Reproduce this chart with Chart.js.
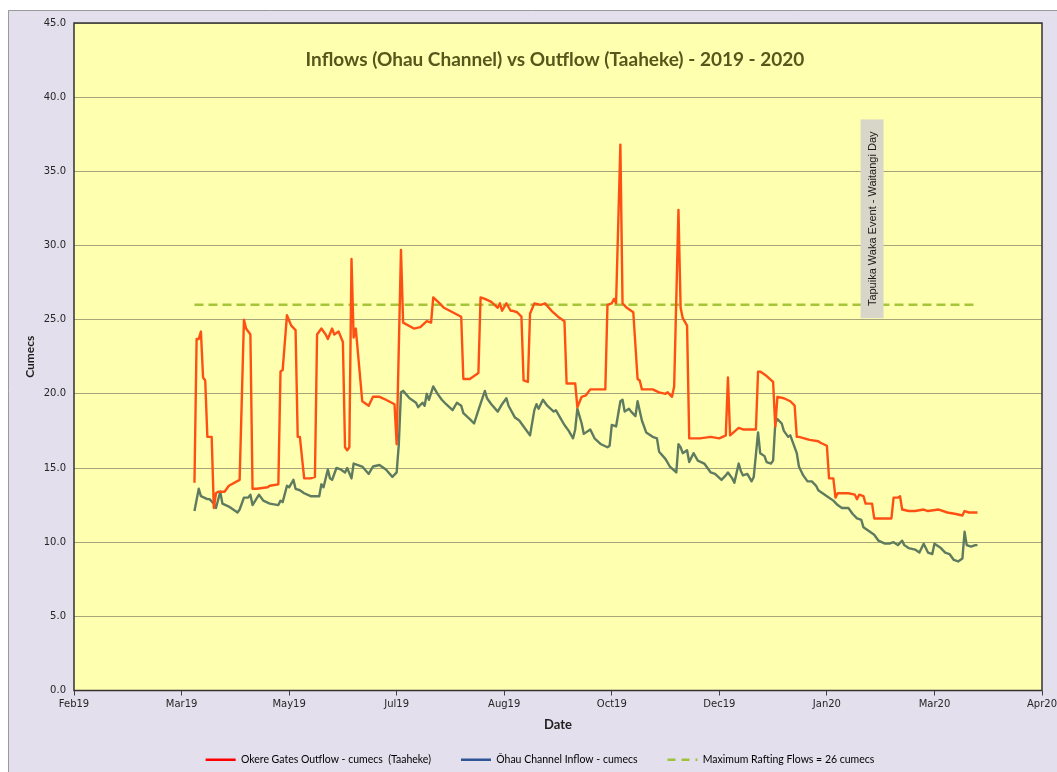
<!DOCTYPE html>
<html>
<head>
<meta charset="utf-8">
<title>Inflows vs Outflow 2019 - 2020</title>
<script src="https://cdn.jsdelivr.net/npm/chart.js@4.4.1/dist/chart.umd.min.js"></script>
<style>
  html, body { margin: 0; padding: 0; background: #ffffff; }
  canvas { display: block; }
</style>
</head>
<body>
<canvas class="flow-chart" width="1057" height="772"></canvas>
<script>
// day numbers count from 1 April 2019 (day 0)
const outflowDays = [0,1,2,3,4,5,6,8,9,10,11,14,16,21,23,24,26,27,29,34,35,39,40,41,43,45,47,48,49,51,54,56,57,59,61,62,64,65,67,69,70,71,72,73,74,75,78,81,83,86,89,93,94,96,97,102,105,108,110,111,114,116,120,124,125,128,132,133,135,138,141,142,143,145,147,148,150,152,153,155,156,158,161,163,166,169,172,173,177,178,180,182,184,188,191,192,194,195,196,198,199,201,204,206,207,208,213,216,219,220,222,223,225,226,227,229,230,235,240,244,247,248,249,253,255,261,262,263,266,269,270,271,274,277,279,280,281,286,290,291,294,295,297,298,299,304,307,308,309,311,312,315,316,324,325,327,328,329,332,335,339,341,346,350,354,357,358,360,364];
const outflowCumecs = [14.0,23.7,23.7,24.2,21.1,20.9,17.1,17.1,12.3,13.3,13.4,13.4,13.8,14.2,25.0,24.4,24.0,13.6,13.6,13.7,13.8,13.9,21.5,21.6,25.3,24.6,24.3,17.1,17.1,14.3,14.3,14.4,24.0,24.4,24.0,23.7,24.4,24.0,24.2,23.5,16.4,16.2,16.4,29.1,23.8,24.4,19.5,19.2,19.8,19.8,19.6,19.3,16.6,29.7,24.8,24.4,24.5,24.9,24.8,26.5,26.1,25.8,25.5,25.2,21.0,21.0,21.4,26.5,26.4,26.2,25.8,26.1,25.6,26.1,25.6,25.6,25.5,25.2,20.9,20.8,25.4,26.1,26.0,26.1,25.6,25.2,24.9,20.7,20.7,19.1,19.8,19.9,20.3,20.3,20.3,26.0,26.1,26.4,26.1,36.8,26.1,25.8,25.5,21.0,20.9,20.3,20.3,20.1,20.0,20.1,19.8,20.5,32.4,25.8,25.1,24.6,17.0,17.0,17.1,17.0,17.2,21.1,17.2,17.7,17.6,17.6,21.5,21.5,21.2,20.8,17.8,19.8,19.7,19.5,19.2,17.1,17.1,16.9,16.8,16.7,16.5,14.3,14.3,13.0,13.3,13.3,13.2,12.9,13.2,13.1,12.6,12.6,11.6,11.6,13.0,13.0,13.1,12.2,12.1,12.1,12.2,12.1,12.2,12.0,11.9,11.8,12.1,12.0,12.0];

const inflowDays = [0,2,3,6,7,9,10,12,13,16,18,20,21,23,25,26,27,30,32,35,39,40,41,43,44,46,47,49,51,54,58,59,60,62,63,64,66,68,70,71,73,74,76,78,81,83,86,89,92,94,95,96,97,100,103,104,106,107,108,109,111,113,115,117,120,122,124,125,128,130,132,135,136,138,141,143,145,146,149,151,153,156,158,159,160,162,164,167,168,170,172,174,176,177,178,180,181,184,186,189,192,193,194,196,198,199,200,202,203,205,206,208,210,213,215,216,219,221,224,225,226,227,229,230,232,234,237,240,242,245,247,248,250,251,253,254,255,257,259,260,262,263,265,266,268,269,270,271,273,274,276,277,278,280,281,283,285,287,289,290,292,294,297,299,301,304,306,308,310,311,314,316,318,321,323,325,327,329,330,332,335,337,339,341,343,344,347,349,351,353,355,357,358,359,361,363,364];
const inflowCumecs = [12.1,13.6,13.1,12.9,12.9,12.6,12.3,13.4,12.6,12.4,12.2,12.0,12.2,13.0,13.0,13.2,12.5,13.2,12.8,12.6,12.5,12.8,12.7,13.8,13.7,14.2,13.6,13.5,13.3,13.1,13.1,13.9,13.7,14.9,14.3,14.2,15.0,14.9,14.7,15.0,14.3,15.3,15.2,15.1,14.6,15.1,15.2,14.9,14.4,14.7,16.6,20.1,20.2,19.7,19.4,19.1,19.4,19.2,20.0,19.6,20.5,20.0,19.6,19.3,18.9,19.4,19.2,18.7,18.3,18.0,18.9,20.2,19.7,19.3,18.8,19.3,19.7,19.2,18.4,18.2,17.8,17.2,18.9,19.3,19.0,19.6,19.2,18.8,18.9,18.4,17.9,17.5,17.0,17.6,19.0,18.0,17.3,17.6,17.0,16.6,16.4,16.5,17.9,17.8,19.5,19.6,18.8,19.0,18.8,18.5,19.5,18.2,17.4,17.1,17.0,16.1,15.6,15.1,14.7,16.6,16.4,16.0,16.2,15.4,16.0,15.5,15.3,14.7,14.6,14.2,14.5,14.7,14.3,14.0,15.3,14.8,14.5,14.6,14.1,14.4,17.4,16.0,15.8,15.4,15.3,15.5,18.0,18.3,18.0,17.5,17.1,17.2,16.8,16.0,15.1,14.5,14.1,14.1,13.8,13.5,13.3,13.1,12.8,12.5,12.3,12.3,11.9,11.6,11.5,11.0,10.7,10.5,10.1,9.9,9.9,10.0,9.8,10.1,9.8,9.6,9.5,9.3,9.9,9.3,9.2,9.9,9.6,9.3,9.2,8.8,8.7,8.9,10.7,9.8,9.7,9.8,9.8];

const raftingDays = [0, 364];
const raftingCumecs = [26, 26];

// x axis runs 4 Feb 2019 (day -56) to 29 Apr 2020 in 50 day steps
const xTickLabels = ["Feb19", "Mar19", "May19", "Jul19", "Aug19", "Oct19", "Dec19", "Jan20", "Mar20", "Apr20"];
const seriesLabels = ["Okere Gates Outflow - cumecs  (Taaheke)", "Ōhau Channel Inflow - cumecs", "Maximum Rafting Flows = 26 cumecs"];
const legendColours = ["#FF0000", "#2F5597", "#9DC23C"];

const chartTitle = "Inflows (Ohau Channel) vs Outflow (Taaheke) - 2019 - 2020";
const eventLabel = "Tapuika Waka Event - Waitangi Day";
const eventDay = 315;
const eventSpan = [25.1, 38.5];

const toPoints = (days, vals) => days.map((d, i) => ({ x: d, y: vals[i] }));

const chartFrame = {
  id: "chartFrame",
  beforeDraw(chart) {
    const { ctx, chartArea: a } = chart;
    ctx.save();
    ctx.fillStyle = "#ffffff";
    ctx.fillRect(0, 0, chart.width, chart.height);
    ctx.fillStyle = "#E4DFEC";
    ctx.fillRect(8, 10, chart.width - 8, chart.height - 10);
    ctx.strokeStyle = "#9a9a9a";
    ctx.lineWidth = 1;
    ctx.beginPath();
    ctx.moveTo(8.5, chart.height);
    ctx.lineTo(8.5, 10.5);
    ctx.lineTo(chart.width, 10.5);
    ctx.stroke();
    ctx.fillStyle = "#FFFFB0";
    ctx.fillRect(a.left, a.top, a.right - a.left, a.bottom - a.top);
    ctx.restore();
  },
  afterDatasetsDraw(chart) {
    const { ctx, chartArea: a, scales: { x, y } } = chart;
    ctx.save();
    ctx.fillStyle = "#57561B";
    ctx.font = "bold 19px Lato";
    ctx.textAlign = "center";
    ctx.textBaseline = "middle";
    ctx.fillText(chartTitle, (a.left + a.right) / 2 - 3, a.top + 37);

    const cx = x.getPixelForValue(eventDay);
    const top = y.getPixelForValue(eventSpan[1]);
    const bottom = y.getPixelForValue(eventSpan[0]);
    ctx.fillStyle = "#D8D6C8";
    ctx.fillRect(cx - 11.5, top, 23, bottom - top);
    ctx.translate(cx, (top + bottom) / 2);
    ctx.rotate(-Math.PI / 2);
    ctx.fillStyle = "#1a1a1a";
    ctx.font = "11px 'Liberation Sans'";
    ctx.fillText(eventLabel, 0, 1);
    ctx.restore();
  },
  afterDraw(chart) {
    const { ctx, chartArea: a } = chart;
    ctx.save();
    ctx.strokeStyle = "#333333";
    ctx.lineWidth = 1.5;
    ctx.strokeRect(a.left, a.top, a.right - a.left, a.bottom - a.top);
    ctx.restore();
  }
};

// the legend sits a little right of centre in the original
const legendNudge = {
  id: "legendNudge",
  afterLayout(chart) {
    const lg = chart.legend;
    lg.left += 19;
    lg.right += 19;
    lg.top += 3;
    lg.bottom += 3;
  }
};

const ctx = document.querySelector(".flow-chart").getContext("2d");

new Chart(ctx, {
  type: "line",
  data: {
    datasets: [
      {
        label: seriesLabels[0],
        data: toPoints(outflowDays, outflowCumecs),
        borderColor: "#FF5014",
        borderWidth: 2.4,
        borderJoinStyle: "round",
        pointRadius: 0,
        tension: 0,
      },
      {
        label: seriesLabels[1],
        data: toPoints(inflowDays, inflowCumecs),
        borderColor: "#5F7B5F",
        borderWidth: 2.4,
        borderJoinStyle: "round",
        pointRadius: 0,
        tension: 0,
      },
      {
        label: seriesLabels[2],
        data: toPoints(raftingDays, raftingCumecs),
        borderColor: "#A5C63A",
        borderWidth: 2.5,
        borderDash: [9, 5],
        pointRadius: 0,
      },
    ],
  },
  options: {
    responsive: false,
    animation: false,
    devicePixelRatio: 1,
    layout: { padding: { top: 23, right: 15, bottom: 0, left: 0 } },
    plugins: {
      tooltip: { enabled: false },
      legend: {
        position: "bottom",
        labels: {
          usePointStyle: true,
          pointStyleWidth: 30,
          boxHeight: 8,
          padding: 30,
          color: "#333333",
          font: { family: "Lato", size: 10.5 },
          generateLabels: (chart) =>
            chart.data.datasets.map((ds, i) => ({
              text: ds.label,
              pointStyle: "line",
              fillStyle: legendColours[i],
              strokeStyle: legendColours[i],
              lineWidth: 2.5,
              lineDash: i === 2 ? [8, 6] : [],
              hidden: false,
              datasetIndex: i,
            })),
        },
      },
    },
    scales: {
      x: {
        type: "linear",
        min: -56,
        max: 394,
        afterFit: (s) => { s.height = 31; s.paddingRight = 0; s.paddingLeft = 0; },
        ticks: {
          stepSize: 50,
          autoSkip: false,
          maxRotation: 0,
          padding: 3,
          color: "#262626",
          font: { family: "DejaVu Sans", size: 10 },
          callback: (v, i) => xTickLabels[i],
        },
        grid: { drawOnChartArea: false, drawTicks: true, tickLength: 5, color: "#404040" },
        border: { display: false },
        title: {
          display: true,
          text: "Date",
          color: "#1f1f1f",
          font: { family: "Lato", size: 13, weight: "bold" },
          padding: { top: 0, bottom: -11 },
        },
      },
      y: {
        min: 0,
        max: 45,
        afterFit: (s) => { s.width = 74; },
        ticks: {
          stepSize: 5,
          padding: 8,
          color: "#262626",
          font: { family: "DejaVu Sans", size: 10 },
          callback: (v) => v.toFixed(1),
        },
        grid: { color: "#A6A57A", lineWidth: 1, drawTicks: false },
        border: { display: false },
        title: {
          display: true,
          text: "Cumecs",
          color: "#1f1f1f",
          font: { family: "Lato", size: 12, weight: "bold" },
          padding: { top: 23, bottom: 0 },
        },
      },
    },
  },
  plugins: [chartFrame, legendNudge],
});
</script>
</body>
</html>
